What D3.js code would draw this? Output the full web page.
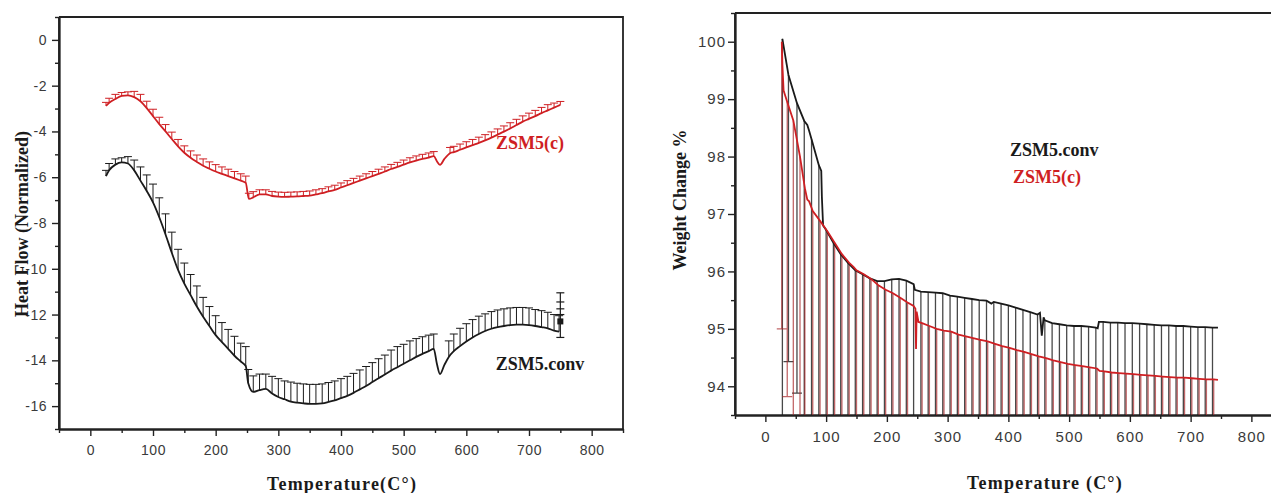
<!DOCTYPE html>
<html>
<head>
<meta charset="utf-8">
<script src="https://cdn.jsdelivr.net/npm/d3@7"></script>
<style>
  body { margin: 0; background: #fff; }
  svg { display: block; }
</style>
</head>
<body>
<svg id="chart" width="1271" height="493"></svg>
<script>
// ---- DSC panel (left): [temperature, heat flow, upper error] ----
const dscConv = [
  [25,-5.95,0.25],[30,-5.7,0.3],[40,-5.45,0.25],[50,-5.35,0.2],[60,-5.4,0.3],[70,-5.7,0.45],
  [80,-6.15,0.6],[90,-6.6,0.7],[100,-7.1,0.8],[110,-7.75,0.85],[120,-8.5,0.9],[130,-9.3,0.9],
  [140,-10.05,0.9],[150,-10.65,0.9],[160,-11.15,0.9],[170,-11.65,0.9],[180,-12.1,0.85],
  [190,-12.5,0.85],[200,-12.9,0.85],[210,-13.2,0.85],[220,-13.5,0.85],[230,-13.8,0.85],
  [240,-14.05,0.8],[248,-14.25,0.85],[252,-15.0,0.6],[260,-15.38,0.7],[270,-15.3,0.7],
  [280,-15.25,0.65],[290,-15.45,0.75],[300,-15.6,0.8],[310,-15.7,0.8],[320,-15.8,0.85],
  [330,-15.85,0.85],[340,-15.88,0.85],[350,-15.9,0.85],[360,-15.9,0.85],[370,-15.88,0.85],
  [380,-15.82,0.85],[390,-15.75,0.85],[400,-15.65,0.85],[410,-15.55,0.85],[420,-15.42,0.85],
  [430,-15.27,0.85],[440,-15.12,0.85],[450,-14.95,0.85],[460,-14.78,0.85],[470,-14.62,0.85],
  [480,-14.45,0.9],[490,-14.3,0.9],[500,-14.15,0.85],[510,-14.0,0.85],[520,-13.85,0.8],
  [530,-13.72,0.75],[540,-13.6,0.7],[548,-13.5,0.65],
  [572,-13.85,0.7],[580,-13.6,0.75],[590,-13.38,0.78],[600,-13.18,0.78],[610,-13.0,0.78],
  [620,-12.85,0.78],[630,-12.72,0.75],[640,-12.62,0.75],[650,-12.55,0.75],[660,-12.5,0.75],
  [670,-12.46,0.75],[680,-12.44,0.75],[690,-12.44,0.75],[700,-12.46,0.75],[710,-12.5,0.72],
  [720,-12.55,0.72],[730,-12.6,0.7],[740,-12.7,0.7],[748,-12.75,0.7]
];
const dscConvDip = [[553,-14.15],[558,-14.6],[565,-14.2]];
const dscConvEnd = { t: 750, v: -12.3, lo: -13.0, caps: [-11.05, -11.45, -11.75, -12.0] };

const dscC = [
  [25,-2.88,0.15],[30,-2.75,0.2],[40,-2.58,0.2],[50,-2.45,0.15],[60,-2.42,0.15],[70,-2.5,0.25],
  [80,-2.68,0.3],[90,-2.98,0.3],[100,-3.33,0.3],[110,-3.68,0.3],[120,-4.0,0.3],[130,-4.33,0.3],
  [140,-4.65,0.3],[150,-4.93,0.3],[160,-5.15,0.3],[170,-5.33,0.3],[180,-5.5,0.3],[190,-5.63,0.3],
  [200,-5.75,0.3],[210,-5.85,0.3],[220,-5.95,0.3],[230,-6.05,0.3],[240,-6.15,0.3],[248,-6.25,0.3],
  [253,-6.95,0.25],[260,-6.88,0.25],[270,-6.75,0.2],[280,-6.75,0.2],[290,-6.82,0.2],[300,-6.85,0.2],
  [310,-6.86,0.2],[320,-6.85,0.2],[330,-6.84,0.2],[340,-6.82,0.2],[350,-6.8,0.2],[360,-6.75,0.2],
  [370,-6.7,0.2],[380,-6.62,0.2],[390,-6.55,0.2],[400,-6.45,0.2],[410,-6.35,0.2],[420,-6.25,0.2],
  [430,-6.15,0.2],[440,-6.05,0.2],[450,-5.95,0.2],[460,-5.85,0.2],[470,-5.75,0.2],[480,-5.64,0.2],
  [490,-5.55,0.2],[500,-5.45,0.2],[510,-5.35,0.2],[520,-5.27,0.2],[530,-5.2,0.2],[540,-5.14,0.2],
  [548,-5.08,0.2],
  [574,-4.95,0.25],[580,-4.9,0.25],[590,-4.8,0.25],[600,-4.7,0.25],[610,-4.6,0.25],[620,-4.5,0.25],
  [630,-4.39,0.25],[640,-4.27,0.25],[650,-4.14,0.25],[660,-4.01,0.25],[670,-3.87,0.25],
  [680,-3.72,0.25],[690,-3.57,0.25],[700,-3.45,0.25],[710,-3.33,0.25],[720,-3.2,0.25],
  [730,-3.08,0.25],[740,-2.96,0.2],[750,-2.84,0.15]
];
const dscCDip = [[553,-5.3],[558,-5.46],[565,-5.2]];

// ---- TGA panel (right): [temperature, weight %] ----
const tgaConv = [
  [28,100.05],[38,99.42],[52,98.93],[64,98.62],[76,98.3],[88,97.85],[100,96.72],[112,96.5],
  [124,96.3],[136,96.15],[148,96.02],[160,95.95],[172,95.88],[184,95.83],[196,95.83],[208,95.86],
  [220,95.87],[232,95.84],[244,95.78],[256,95.65],[268,95.64],[280,95.63],[292,95.62],[304,95.58],
  [316,95.56],[328,95.54],[340,95.52],[352,95.5],[364,95.49],[376,95.47],[388,95.44],[400,95.41],
  [412,95.37],[424,95.33],[436,95.29],[448,95.25],[460,95.15],[472,95.1],[484,95.08],[496,95.06],
  [508,95.05],[520,95.05],[532,95.04],[544,95.02],[556,95.12],[568,95.11],[580,95.11],[592,95.1],
  [604,95.1],[616,95.09],[628,95.08],[640,95.07],[652,95.06],[664,95.06],[676,95.05],[688,95.05],
  [700,95.04],[712,95.03],[724,95.03],[736,95.02]
];
const tgaConvSteps = [
  [69,98.55],[72,98.45],[92,97.75],[93,97.3],[95,96.8],[246,95.68],[372,95.44],
  [452,95.28],[455,94.88],[458,95.2],[547,95.01],[549,95.12],[745,95.02]
];
const tgaC = [
  [27,100.0],[36,98.95],[46,98.63],[57,98.0],[65,97.45],[78,97.05],[90,96.88],[102,96.7],
  [114,96.5],[126,96.3],[138,96.15],[150,96.02],[162,95.95],[174,95.87],[186,95.76],[198,95.68],
  [210,95.62],[222,95.54],[234,95.46],[258,95.1],[270,95.05],[282,95.0],[294,94.97],[306,94.95],
  [318,94.9],[330,94.87],[342,94.84],[354,94.81],[366,94.78],[378,94.74],[390,94.7],[402,94.67],
  [414,94.63],[426,94.6],[438,94.56],[450,94.52],[462,94.49],[474,94.45],[486,94.42],[498,94.39],
  [510,94.37],[522,94.35],[534,94.33],[546,94.31],[558,94.26],[570,94.24],[582,94.23],[594,94.22],
  [606,94.21],[618,94.2],[630,94.19],[642,94.18],[654,94.17],[666,94.16],[678,94.15],[690,94.15],
  [702,94.14],[714,94.13],[726,94.12],[738,94.12]
];
const tgaCSteps = [
  [28,99.6],[30,99.15],[69,97.25],[72,97.22],[145,96.08],[244,95.4],[247,95.35],[248,94.65],
  [249,95.3],[252,95.12],[550,94.27],[745,94.11]
];
// drop lines that stop at a cap instead of the axis: [series, temperature, lower end]
const tgaCapped = [["c",27,95.0],["conv",38,94.43],["c",36,93.82],["conv",52,93.88]];

const xMajor = d3.range(0, 801, 100);
const xMinor = d3.range(-50, 851, 100);
const dscMajor = d3.range(-16, 1, 2);
const dscMinor = d3.range(-17, 2, 2);
const tgaMajor = d3.range(94, 101, 1);
const tgaMinor = d3.range(93.5, 101, 1);

const RED = "#cf1f23";
const INK = "#1a1a1a";
const svg = d3.select("#chart");

function frame(x, y, o) {
  const [x0, x1] = x.range(), [yb, yt] = y.range();
  const g = svg.append("g");
  const ax = g.append("g").attr("transform", `translate(0,${yb})`)
    .call(d3.axisBottom(x).tickValues(xMajor).tickSize(7).tickPadding(9).tickSizeOuter(0)
      .tickFormat(d3.format("d")));
  g.append("g").attr("transform", `translate(0,${yb})`)
    .call(d3.axisBottom(x).tickValues(xMinor).tickSize(4).tickSizeOuter(0).tickFormat(""));
  const ay = g.append("g").attr("transform", `translate(${x0},0)`)
    .call(d3.axisLeft(y).tickValues(o.yMajor).tickSize(7).tickPadding(o.yPad).tickSizeOuter(0)
      .tickFormat(d => String(d)));
  g.append("g").attr("transform", `translate(${x0},0)`)
    .call(d3.axisLeft(y).tickValues(o.yMinor).tickSize(4).tickSizeOuter(0).tickFormat(""));
  g.selectAll(".domain").attr("stroke", "#222").attr("stroke-width", 1.8);
  g.selectAll(".tick line").attr("stroke", "#222").attr("stroke-width", 1.4);
  g.selectAll(".tick text").attr("fill", "#3a3a3a")
    .attr("font-family", "Liberation Sans, Arial, sans-serif").attr("font-size", o.fs)
    .attr("letter-spacing", o.ls);
  // top and right border
  g.append("path")
    .attr("d", `M${x0},${yt}H${x1}` + (o.rightBorder ? `V${yb}` : ""))
    .attr("fill", "none").attr("stroke", "#222").attr("stroke-width", 1.8);
  g.append("path").attr("d", `M${x0},${yb}V${yt}`).attr("stroke", "#222").attr("stroke-width", 1.8);
}

function label(txt, x, y, o = {}) {
  const t = svg.append("text").text(txt)
    .attr("x", x).attr("y", y)
    .attr("font-family", "Liberation Serif, Times New Roman, serif")
    .attr("font-weight", "bold")
    .attr("font-size", o.fs || 18)
    .attr("letter-spacing", o.ls || 0)
    .attr("fill", o.fill || INK)
    .attr("text-anchor", o.anchor || "middle");
  if (o.rot) t.attr("transform", `rotate(-90,${x},${y})`);
  return t;
}

// ================= left: DSC =================
{
  const x = d3.scaleLinear().domain([-50, 850]).range([59, 623]);
  const y = d3.scaleLinear().domain([-17, 1]).range([429, 17]);
  frame(x, y, { yMajor: dscMajor, yMinor: dscMinor, yPad: 5, fs: 14, ls: 0.5, rightBorder: true });

  const line = d3.line().x(d => x(d[0])).y(d => y(d[1])).curve(d3.curveMonotoneX);
  const bars = (data, color) => {
    const g = svg.append("g").attr("stroke", color).attr("stroke-width", 1).attr("fill", "none");
    g.selectAll("path").data(data).join("path")
      .attr("d", d => `M${x(d[0])},${y(d[1])}V${y(d[1] + d[2])}m-4,0h8`);
  };
  bars(dscC, RED);
  bars(dscConv, INK);

  const merged = (a, b) => a.map(d => [d[0], d[1]]).concat(b).sort((p, q) => p[0] - q[0]);
  svg.append("path").datum(merged(dscC, dscCDip)).attr("d", line)
    .attr("fill", "none").attr("stroke", RED).attr("stroke-width", 1.8);
  svg.append("path").datum(merged(dscConv, dscConvDip)).attr("d", line)
    .attr("fill", "none").attr("stroke", INK).attr("stroke-width", 1.8);

  // last point with stacked error bars
  const e = dscConvEnd, ex = x(e.t);
  const eg = svg.append("g").attr("stroke", INK).attr("stroke-width", 1.2).attr("fill", "none");
  eg.append("path").attr("d", `M${ex},${y(e.lo)}V${y(d3.max(e.caps))}`);
  eg.selectAll(".cap").data(e.caps.concat([e.lo])).join("path")
    .attr("d", d => `M${ex - 4},${y(d)}h8`);
  svg.append("rect").attr("x", ex - 3).attr("y", y(e.v) - 3).attr("width", 6).attr("height", 6)
    .attr("fill", INK);

  label("ZSM5(c)", 530, 149, { fill: RED, fs: 18 });
  label("ZSM5.conv", 540, 370, { fs: 18 });
  label("Temperature(C°)", 342, 490, { fs: 18, ls: 1.2 });
  label("Heat Flow (Normalized)", 28, 224, { fs: 18, rot: true });
}

// ================= right: TGA =================
{
  const x = d3.scaleLinear().domain([-50, 850]).range([735, 1281.75]);
  const y = d3.scaleLinear().domain([93.5, 100.5]).range([415, 13]);
  frame(x, y, { yMajor: tgaMajor, yMinor: tgaMinor, yPad: 2, fs: 15, ls: 1, rightBorder: false });

  const base = y.domain()[0];
  const drops = (data, key, color, op) => {
    const capped = new Map(tgaCapped.filter(c => c[0] === key).map(c => [c[1], c[2]]));
    const g = svg.append("g").attr("stroke", color).attr("stroke-opacity", op)
      .attr("stroke-width", 1.3).attr("fill", "none");
    g.selectAll("path").data(data).join("path")
      .attr("d", d => {
        const lo = capped.has(d[0]) ? capped.get(d[0]) : base;
        return `M${x(d[0])},${y(d[1])}V${y(lo)}` + (capped.has(d[0]) ? `m-5,0h10` : "");
      });
  };
  drops(tgaConv, "conv", INK, 0.8);
  drops(tgaC, "c", "#a8262a", 0.7);

  const line = d3.line().x(d => x(d[0])).y(d => y(d[1]));
  const merged = (a, b) => a.concat(b).sort((p, q) => p[0] - q[0]);
  svg.append("path").datum(merged(tgaConv, tgaConvSteps)).attr("d", line)
    .attr("fill", "none").attr("stroke", INK).attr("stroke-width", 1.8);
  svg.append("path").datum(merged(tgaC, tgaCSteps)).attr("d", line)
    .attr("fill", "none").attr("stroke", RED).attr("stroke-width", 1.8);

  label("ZSM5.conv", 1010, 156, { fs: 18, anchor: "start" });
  label("ZSM5(c)", 1013, 183, { fill: RED, fs: 18, anchor: "start" });
  label("Temperature (C°)", 1045, 489, { fs: 18, ls: 1.2 });
  label("Weight Change %", 686, 200, { fs: 18, rot: true });
}
</script>
</body>
</html>
